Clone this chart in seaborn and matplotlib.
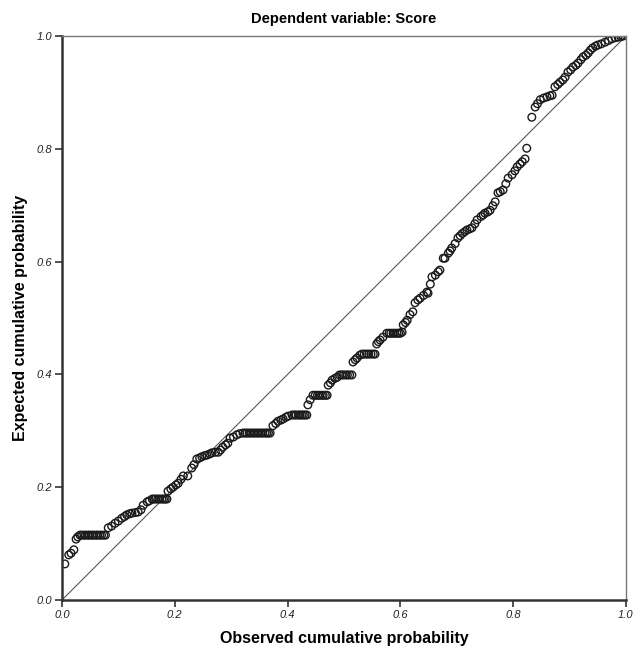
import matplotlib
matplotlib.use("Agg")
import matplotlib.pyplot as plt
import seaborn as sns
import pandas as pd

# observed vs expected cumulative probability
observed = [
    0.005, 0.012, 0.016, 0.021, 0.025, 0.028,
    0.032, 0.035, 0.039, 0.042, 0.046, 0.049, 0.053, 0.056, 0.060, 0.063,
    0.067, 0.070, 0.074, 0.077,
    0.082, 0.088, 0.094, 0.100, 0.106, 0.111, 0.115, 0.120, 0.124, 0.130,
    0.135, 0.140, 0.144, 0.151, 0.155,
    0.160, 0.163, 0.166, 0.170, 0.173, 0.177, 0.180, 0.183, 0.186,
    0.188, 0.193, 0.197, 0.202, 0.206, 0.211, 0.215, 0.223, 0.230, 0.234,
    0.239, 0.244, 0.248, 0.253, 0.257, 0.262, 0.266,
    0.272, 0.277, 0.281, 0.285, 0.290, 0.294, 0.298, 0.304, 0.310, 0.315,
    0.321, 0.325, 0.328, 0.332, 0.335, 0.339, 0.342, 0.346, 0.349, 0.353,
    0.356, 0.360, 0.363, 0.366, 0.369,
    0.374, 0.379, 0.383, 0.388, 0.392, 0.397, 0.401,
    0.408, 0.412, 0.415, 0.419, 0.422, 0.425, 0.428, 0.431, 0.434,
    0.436, 0.440, 0.445,
    0.449, 0.453, 0.456, 0.460, 0.463, 0.467, 0.470,
    0.472, 0.476, 0.479, 0.484, 0.488,
    0.492, 0.496, 0.499, 0.503, 0.506, 0.510, 0.514,
    0.516, 0.520, 0.523, 0.528,
    0.532, 0.536, 0.540, 0.544, 0.548, 0.552, 0.555,
    0.558, 0.561, 0.564, 0.569,
    0.576, 0.580, 0.583, 0.587, 0.590, 0.594, 0.597, 0.600, 0.603,
    0.605, 0.609, 0.612, 0.617, 0.622, 0.626, 0.631, 0.635, 0.641, 0.647,
    0.649, 0.653, 0.656, 0.662, 0.667, 0.670, 0.676, 0.679, 0.685, 0.688,
    0.691, 0.697, 0.702, 0.706, 0.710, 0.714, 0.718, 0.723, 0.727, 0.732,
    0.736, 0.743, 0.747, 0.750, 0.755, 0.759, 0.764, 0.768, 0.773, 0.777,
    0.782, 0.787, 0.791, 0.798, 0.803, 0.807, 0.812, 0.816, 0.821, 0.824,
    0.833, 0.839, 0.843, 0.848, 0.854, 0.860, 0.865, 0.869, 0.874, 0.879,
    0.883, 0.888, 0.892, 0.897, 0.902, 0.906, 0.911, 0.915, 0.920, 0.924,
    0.929, 0.933, 0.937, 0.941, 0.946, 0.950, 0.956, 0.963, 0.969, 0.975,
    0.981, 0.986, 0.991, 0.995,
]
expected = [
    0.064, 0.080, 0.083, 0.089, 0.108, 0.112,
    0.115, 0.115, 0.115, 0.115, 0.115, 0.115, 0.115, 0.115, 0.115, 0.115,
    0.115, 0.115, 0.115, 0.115,
    0.128, 0.131, 0.136, 0.140, 0.145, 0.148, 0.151, 0.153, 0.154, 0.155,
    0.156, 0.160, 0.168, 0.174, 0.176,
    0.179, 0.179, 0.179, 0.179, 0.179, 0.179, 0.179, 0.179, 0.179,
    0.193, 0.197, 0.200, 0.204, 0.207, 0.214, 0.220, 0.220, 0.234, 0.240,
    0.250, 0.252, 0.254, 0.256, 0.257, 0.259, 0.261,
    0.262, 0.262, 0.266, 0.271, 0.275, 0.278, 0.287, 0.289, 0.293, 0.295,
    0.296, 0.296, 0.296, 0.296, 0.296, 0.296, 0.296, 0.296, 0.296, 0.296,
    0.296, 0.296, 0.296, 0.296, 0.296,
    0.309, 0.313, 0.317, 0.319, 0.321, 0.324, 0.326,
    0.328, 0.328, 0.328, 0.328, 0.328, 0.328, 0.328, 0.328, 0.328,
    0.346, 0.355, 0.363,
    0.363, 0.363, 0.363, 0.363, 0.363, 0.363, 0.363,
    0.381, 0.385, 0.390, 0.393, 0.395,
    0.399, 0.399, 0.399, 0.399, 0.399, 0.399, 0.399,
    0.422, 0.426, 0.429, 0.434,
    0.436, 0.436, 0.436, 0.436, 0.436, 0.436, 0.436,
    0.454, 0.458, 0.461, 0.466,
    0.473, 0.473, 0.473, 0.473, 0.473, 0.473, 0.473, 0.473, 0.475,
    0.488, 0.492, 0.496, 0.506, 0.511, 0.527, 0.532, 0.535, 0.540, 0.546,
    0.544, 0.560, 0.573, 0.576, 0.582, 0.585, 0.606, 0.606, 0.615, 0.619,
    0.624, 0.632, 0.642, 0.646, 0.650, 0.653, 0.656, 0.658, 0.660, 0.667,
    0.674, 0.680, 0.683, 0.686, 0.688, 0.691, 0.699, 0.706, 0.722, 0.724,
    0.727, 0.738, 0.748, 0.754, 0.761, 0.768, 0.773, 0.777, 0.782, 0.801,
    0.856, 0.874, 0.880, 0.887, 0.890, 0.892, 0.894, 0.895, 0.910, 0.914,
    0.918, 0.922, 0.927, 0.936, 0.940, 0.945, 0.948, 0.952, 0.958, 0.963,
    0.966, 0.970, 0.975, 0.979, 0.982, 0.984, 0.986, 0.989, 0.992, 0.995,
    0.997, 0.998, 0.999, 1.000,
]
ticks = [0.0, 0.2, 0.4, 0.6, 0.8, 1.0]
tick_labels = ["0.0", "0.2", "0.4", "0.6", "0.8", "1.0"]

sns.set_style("white")
plt.rcParams["font.family"] = ["Liberation Sans", "DejaVu Sans"]
plt.rcParams["text.color"] = "black"
plt.rcParams["axes.labelcolor"] = "black"

df = pd.DataFrame({"Observed": observed, "Expected": expected})

fig = plt.figure(figsize=(6.33, 6.51), dpi=100)
ax = fig.add_axes([62 / 633, 51 / 651, 564 / 633, 564 / 651])

# reference diagonal
ax.plot([0, 1], [0, 1], color="#555555", linewidth=0.8, zorder=1)

sns.scatterplot(data=df, x="Observed", y="Expected", ax=ax,
                marker="o", s=30, facecolor="none", edgecolor="#1a1a1a",
                linewidth=1.0, zorder=2)

ax.set_xlim(0, 1)
ax.set_ylim(0, 1)
ax.set_xticks(ticks)
ax.set_yticks(ticks)
ax.set_xticklabels(tick_labels, fontstyle="italic", fontsize=8, color="#222222")
ax.set_yticklabels(tick_labels, fontstyle="italic", fontsize=8, color="#222222")
ax.tick_params(axis="both", direction="out", length=5, width=1.2,
               color="#333333", pad=2, bottom=True, left=True)

for side in ["left", "bottom"]:
    ax.spines[side].set_color("#333333")
    ax.spines[side].set_linewidth(1.8)
for side in ["top", "right"]:
    ax.spines[side].set_color("#777777")
    ax.spines[side].set_linewidth(1.0)

ax.set_title("Dependent variable: Score", fontsize=10.5, fontweight="bold", pad=9)
ax.set_xlabel("Observed cumulative probability", fontsize=11.5, fontweight="bold", labelpad=8)
ax.set_ylabel("Expected cumulative probability", fontsize=11.5, fontweight="bold", labelpad=6)

fig.savefig("out.png", dpi=100)
